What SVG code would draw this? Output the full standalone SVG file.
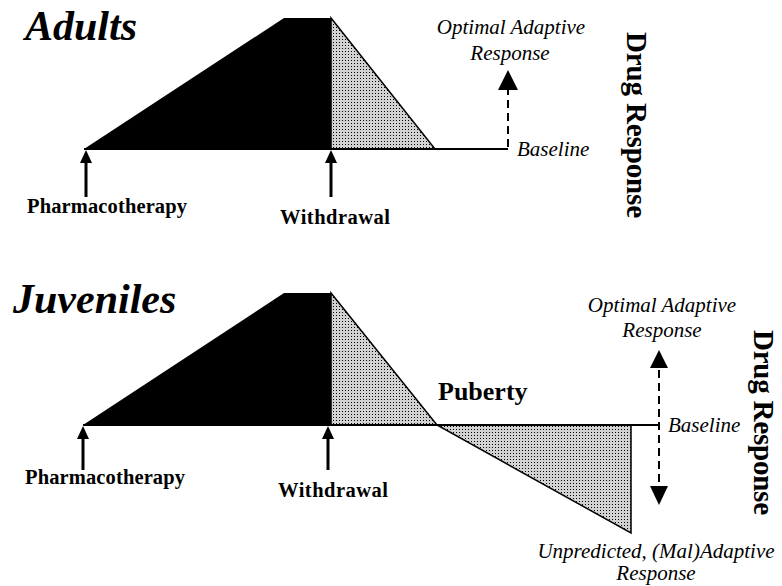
<svg xmlns="http://www.w3.org/2000/svg" width="782" height="586" viewBox="0 0 782 586">
<style>
text{font-family:'Liberation Serif','Times New Roman',Times,serif;fill:#000}
.title{font-weight:bold;font-style:italic;font-size:42px}
.lbl{font-weight:bold;font-size:20.5px}
.it{font-style:italic;font-size:21px}
.axis{font-weight:bold;font-size:29px}
.pub{font-weight:bold;font-size:26px}
.base{stroke:#000;stroke-width:2;fill:none}
.solid{stroke:#000;stroke-width:3;fill:none}
.dash{stroke:#000;stroke-width:2;stroke-dasharray:8 5;fill:none}
.blk{fill:#000}
.stip{fill:url(#dots);stroke:#000;stroke-width:1.5}
</style>
<defs>
<pattern id="dots" width="3" height="3" patternUnits="userSpaceOnUse">
<rect width="3" height="3" fill="#d2d2d2"/>
<rect width="1" height="1" fill="#000"/>
</pattern>
</defs>

<g id="adults">
<text class="title" x="25" y="40">Adults</text>
<polygon class="blk" points="84,149 284,18 331,18 331,149"/>
<polygon class="stip" points="331,18 435,149 331,149"/>
<line class="base" x1="84" y1="149" x2="508" y2="149"/>
</g>
<g id="adult-pharmacotherapy"><text class="lbl" x="27" y="213" textLength="160">Pharmacotherapy</text></g>
<g id="adult-withdrawal"><text class="lbl" x="280" y="224" textLength="110">Withdrawal</text></g>
<g id="adult-optimal"><text class="it" x="511" y="34" text-anchor="middle">Optimal Adaptive</text><text class="it" x="510" y="60" text-anchor="middle">Response</text></g>
<g id="adult-baseline"><text class="it" x="517" y="156">Baseline</text></g>
<g id="adult-axis"><text class="axis" transform="translate(627,32) rotate(90)" textLength="186">Drug Response</text></g>

<g id="juveniles">
<text class="title" x="13" y="313">Juveniles</text>
<polygon class="blk" points="83,425 284,293 331,293 331,425"/>
<polygon class="stip" points="331,293 437,425 331,425"/>
<polygon class="stip" points="437,425 631,425 631,533"/>
<line class="base" x1="83" y1="425" x2="658" y2="425"/>
</g>
<g id="juv-pharmacotherapy"><text class="lbl" x="25" y="484" textLength="160">Pharmacotherapy</text></g>
<g id="juv-withdrawal"><text class="lbl" x="278" y="497" textLength="110">Withdrawal</text></g>
<g id="juv-puberty"><text class="pub" x="438" y="400">Puberty</text></g>
<g id="juv-optimal"><text class="it" x="662" y="312" text-anchor="middle">Optimal Adaptive</text><text class="it" x="662" y="337" text-anchor="middle">Response</text></g>
<g id="juv-baseline"><text class="it" x="668" y="432">Baseline</text></g>
<g id="juv-unpredicted"><text class="it" x="656" y="558" text-anchor="middle">Unpredicted, (Mal)Adaptive</text><text class="it" x="656" y="580" text-anchor="middle">Response</text></g>
<g id="juv-axis"><text class="axis" transform="translate(754,330) rotate(90)" textLength="185">Drug Response</text></g>

<g id="connectors">
<line class="solid" x1="86" y1="160" x2="86" y2="197"/>
<polygon class="blk" points="86,150 80,163 92,163"/>
<line class="solid" x1="331" y1="160" x2="331" y2="197"/>
<polygon class="blk" points="331,150 325,163 337,163"/>
<line class="dash" x1="508" y1="147" x2="508" y2="90"/>
<polygon class="blk" points="508,70 498,90 518,90"/>

<line class="solid" x1="83" y1="436" x2="83" y2="470"/>
<polygon class="blk" points="83,426 77,439 89,439"/>
<line class="solid" x1="328" y1="436" x2="328" y2="470"/>
<polygon class="blk" points="328,426 322,439 334,439"/>
<line class="dash" x1="659" y1="370" x2="659" y2="486"/>
<polygon class="blk" points="659,350 650,368 668,368"/>
<polygon class="blk" points="659,505 650,486 668,486"/>
</g>
</svg>
